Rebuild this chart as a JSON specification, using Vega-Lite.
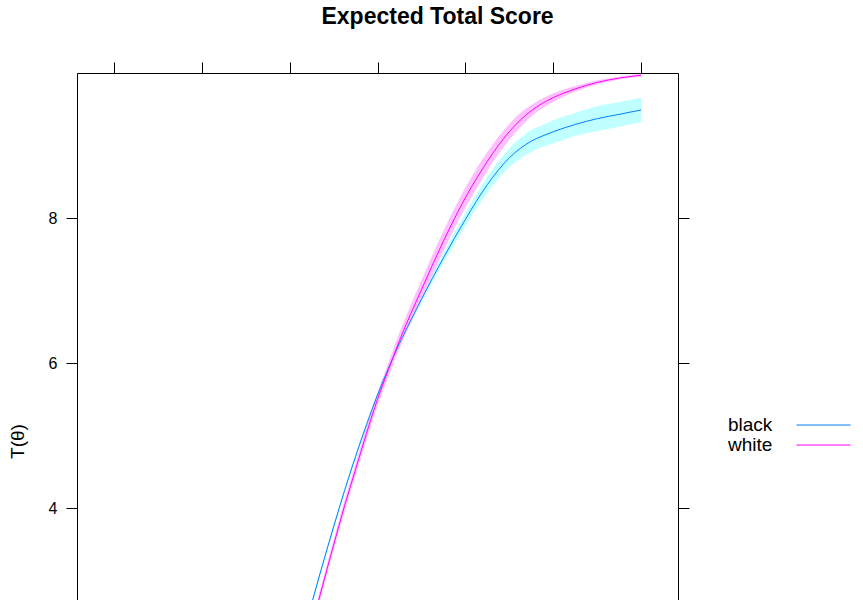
{
  "$schema": "https://vega.github.io/schema/vega-lite/v6.json",
  "width": 601,
  "height": 736,
  "padding": {"left": 8, "top": 5, "right": 5, "bottom": 5},
  "background": "white",
  "title": {
    "text": "Expected Total Score",
    "font": "Liberation Sans",
    "fontSize": 23,
    "fontWeight": "bold",
    "color": "black",
    "anchor": "middle",
    "frame": "bounds",
    "offset": 33,
    "dx": 7
  },
  "config": {
    "view": {"stroke": "black", "strokeWidth": 1},
    "font": "Liberation Sans",
    "axis": {
      "grid": false,
      "domain": false,
      "tickColor": "black",
      "tickSize": 11,
      "tickWidth": 1,
      "labelFont": "Liberation Sans",
      "labelColor": "black",
      "labelFontSize": 16,
      "titleFont": "Liberation Sans",
      "titleColor": "black"
    }
  },
  "data": {
    "values": [
      {"theta": -6, "group": "black", "T": 0.05, "lo": 0.01, "hi": 0.09},
      {"theta": -5.5, "group": "black", "T": 0.07, "lo": 0.03, "hi": 0.11},
      {"theta": -5, "group": "black", "T": 0.10, "lo": 0.06, "hi": 0.14},
      {"theta": -4.5, "group": "black", "T": 0.15, "lo": 0.11, "hi": 0.19},
      {"theta": -4, "group": "black", "T": 0.24, "lo": 0.20, "hi": 0.28},
      {"theta": -3.5, "group": "black", "T": 0.40, "lo": 0.36, "hi": 0.44},
      {"theta": -3, "group": "black", "T": 0.65, "lo": 0.61, "hi": 0.69},
      {"theta": -2.5, "group": "black", "T": 1.05, "lo": 1.01, "hi": 1.09},
      {"theta": -2, "group": "black", "T": 1.60, "lo": 1.56, "hi": 1.64},
      {"theta": -1.75, "group": "black", "T": 2.13, "lo": 2.09, "hi": 2.17},
      {"theta": -1.5, "group": "black", "T": 2.68, "lo": 2.64, "hi": 2.72},
      {"theta": -1.25, "group": "black", "T": 3.22, "lo": 3.18, "hi": 3.26},
      {"theta": -1, "group": "black", "T": 3.74, "lo": 3.70, "hi": 3.78},
      {"theta": -0.75, "group": "black", "T": 4.24, "lo": 4.20, "hi": 4.28},
      {"theta": -0.5, "group": "black", "T": 4.71, "lo": 4.67, "hi": 4.75},
      {"theta": -0.25, "group": "black", "T": 5.15, "lo": 5.11, "hi": 5.19},
      {"theta": 0, "group": "black", "T": 5.56, "lo": 5.52, "hi": 5.60},
      {"theta": 0.25, "group": "black", "T": 5.93, "lo": 5.89, "hi": 5.97},
      {"theta": 0.5, "group": "black", "T": 6.27, "lo": 6.22, "hi": 6.32},
      {"theta": 0.75, "group": "black", "T": 6.58, "lo": 6.53, "hi": 6.63},
      {"theta": 1, "group": "black", "T": 6.88, "lo": 6.82, "hi": 6.94},
      {"theta": 1.25, "group": "black", "T": 7.17, "lo": 7.11, "hi": 7.23},
      {"theta": 1.5, "group": "black", "T": 7.45, "lo": 7.38, "hi": 7.52},
      {"theta": 1.75, "group": "black", "T": 7.72, "lo": 7.64, "hi": 7.80},
      {"theta": 2, "group": "black", "T": 7.98, "lo": 7.89, "hi": 8.07},
      {"theta": 2.25, "group": "black", "T": 8.23, "lo": 8.13, "hi": 8.33},
      {"theta": 2.5, "group": "black", "T": 8.46, "lo": 8.35, "hi": 8.57},
      {"theta": 2.75, "group": "black", "T": 8.66, "lo": 8.54, "hi": 8.78},
      {"theta": 3, "group": "black", "T": 8.83, "lo": 8.70, "hi": 8.96},
      {"theta": 3.25, "group": "black", "T": 8.96, "lo": 8.82, "hi": 9.10},
      {"theta": 3.5, "group": "black", "T": 9.06, "lo": 8.91, "hi": 9.21},
      {"theta": 3.75, "group": "black", "T": 9.13, "lo": 8.98, "hi": 9.28},
      {"theta": 4, "group": "black", "T": 9.19, "lo": 9.03, "hi": 9.35},
      {"theta": 4.5, "group": "black", "T": 9.29, "lo": 9.13, "hi": 9.45},
      {"theta": 5, "group": "black", "T": 9.37, "lo": 9.20, "hi": 9.54},
      {"theta": 5.5, "group": "black", "T": 9.43, "lo": 9.26, "hi": 9.60},
      {"theta": 6, "group": "black", "T": 9.49, "lo": 9.32, "hi": 9.66},
      {"theta": -6, "group": "white", "T": 0.02, "lo": 0.00, "hi": 0.04},
      {"theta": -5.5, "group": "white", "T": 0.03, "lo": 0.01, "hi": 0.05},
      {"theta": -5, "group": "white", "T": 0.05, "lo": 0.02, "hi": 0.08},
      {"theta": -4.5, "group": "white", "T": 0.08, "lo": 0.05, "hi": 0.11},
      {"theta": -4, "group": "white", "T": 0.13, "lo": 0.09, "hi": 0.17},
      {"theta": -3.5, "group": "white", "T": 0.22, "lo": 0.17, "hi": 0.27},
      {"theta": -3, "group": "white", "T": 0.38, "lo": 0.32, "hi": 0.44},
      {"theta": -2.5, "group": "white", "T": 0.65, "lo": 0.58, "hi": 0.72},
      {"theta": -2, "group": "white", "T": 1.20, "lo": 1.13, "hi": 1.27},
      {"theta": -1.75, "group": "white", "T": 1.78, "lo": 1.71, "hi": 1.85},
      {"theta": -1.5, "group": "white", "T": 2.36, "lo": 2.29, "hi": 2.43},
      {"theta": -1.25, "group": "white", "T": 2.93, "lo": 2.86, "hi": 3.00},
      {"theta": -1, "group": "white", "T": 3.49, "lo": 3.42, "hi": 3.56},
      {"theta": -0.75, "group": "white", "T": 4.03, "lo": 3.95, "hi": 4.11},
      {"theta": -0.5, "group": "white", "T": 4.53, "lo": 4.45, "hi": 4.61},
      {"theta": -0.25, "group": "white", "T": 5.03, "lo": 4.94, "hi": 5.12},
      {"theta": 0, "group": "white", "T": 5.50, "lo": 5.41, "hi": 5.59},
      {"theta": 0.25, "group": "white", "T": 5.91, "lo": 5.81, "hi": 6.01},
      {"theta": 0.5, "group": "white", "T": 6.31, "lo": 6.20, "hi": 6.42},
      {"theta": 0.75, "group": "white", "T": 6.67, "lo": 6.55, "hi": 6.79},
      {"theta": 1, "group": "white", "T": 7.01, "lo": 6.88, "hi": 7.14},
      {"theta": 1.25, "group": "white", "T": 7.35, "lo": 7.21, "hi": 7.49},
      {"theta": 1.5, "group": "white", "T": 7.68, "lo": 7.54, "hi": 7.82},
      {"theta": 1.75, "group": "white", "T": 7.99, "lo": 7.85, "hi": 8.13},
      {"theta": 2, "group": "white", "T": 8.28, "lo": 8.14, "hi": 8.42},
      {"theta": 2.25, "group": "white", "T": 8.54, "lo": 8.40, "hi": 8.68},
      {"theta": 2.5, "group": "white", "T": 8.78, "lo": 8.65, "hi": 8.91},
      {"theta": 2.75, "group": "white", "T": 9.00, "lo": 8.88, "hi": 9.12},
      {"theta": 3, "group": "white", "T": 9.19, "lo": 9.08, "hi": 9.30},
      {"theta": 3.25, "group": "white", "T": 9.35, "lo": 9.25, "hi": 9.45},
      {"theta": 3.5, "group": "white", "T": 9.48, "lo": 9.40, "hi": 9.56},
      {"theta": 3.75, "group": "white", "T": 9.58, "lo": 9.51, "hi": 9.65},
      {"theta": 4, "group": "white", "T": 9.66, "lo": 9.60, "hi": 9.72},
      {"theta": 4.5, "group": "white", "T": 9.78, "lo": 9.74, "hi": 9.82},
      {"theta": 5, "group": "white", "T": 9.87, "lo": 9.84, "hi": 9.90},
      {"theta": 5.5, "group": "white", "T": 9.93, "lo": 9.91, "hi": 9.95},
      {"theta": 6, "group": "white", "T": 9.97, "lo": 9.95, "hi": 9.99}
    ]
  },
  "resolve": {"axis": {"y": "independent"}},
  "layer": [
    {
      "mark": {"type": "area", "clip": true, "interpolate": "monotone"},
      "encoding": {
        "x": {
          "field": "theta", "type": "quantitative",
          "scale": {"domain": [-6.84, 6.84], "nice": false, "zero": false},
          "axis": {"orient": "top", "values": [-6, -4, -2, 0, 2, 4, 6], "labels": false, "title": null}
        },
        "y": {
          "field": "lo", "type": "quantitative",
          "scale": {"domain": [-0.15, 10], "nice": false, "zero": false},
          "axis": {"orient": "left", "values": [4, 6, 8], "labelPadding": 9, "title": "T(θ)", "titleFontSize": 19, "titleFontWeight": "normal", "titlePadding": 21}
        },
        "y2": {"field": "hi"},
        "fill": {
          "field": "group", "type": "nominal",
          "scale": {"domain": ["white", "black"], "range": ["#ffc0ff", "#c0ffff"]},
          "legend": null
        },
        "detail": {"field": "group"}
      }
    },
    {
      "mark": {"type": "line", "clip": true, "interpolate": "monotone", "strokeWidth": 1},
      "encoding": {
        "x": {"field": "theta", "type": "quantitative"},
        "y": {
          "field": "T", "type": "quantitative",
          "axis": {"orient": "right", "values": [4, 6, 8], "labels": false, "title": null}
        },
        "stroke": {
          "field": "group", "type": "nominal",
          "scale": {"domain": ["black", "white"], "range": ["#0080ff", "#ff00ff"]},
          "legend": {
            "title": null,
            "orient": "none",
            "legendX": 737,
            "legendY": 342.5,
            "padding": 0,
            "symbolType": "M-5.4,0L5.4,0",
            "symbolSize": 100,
            "symbolStrokeWidth": 1,
            "labelFont": "Liberation Sans",
            "labelFontSize": 19,
            "labelColor": "black",
            "labelOffset": -105,
            "rowPadding": 0,
            "encode": {
              "symbols": {
                "update": {
                  "stroke": {"scale": "stroke", "field": "value"},
                  "strokeWidth": {"value": 1},
                  "opacity": {"value": 1},
                  "strokeOpacity": {"value": 1}
                }
              }
            }
          }
        }
      }
    }
  ]
}
